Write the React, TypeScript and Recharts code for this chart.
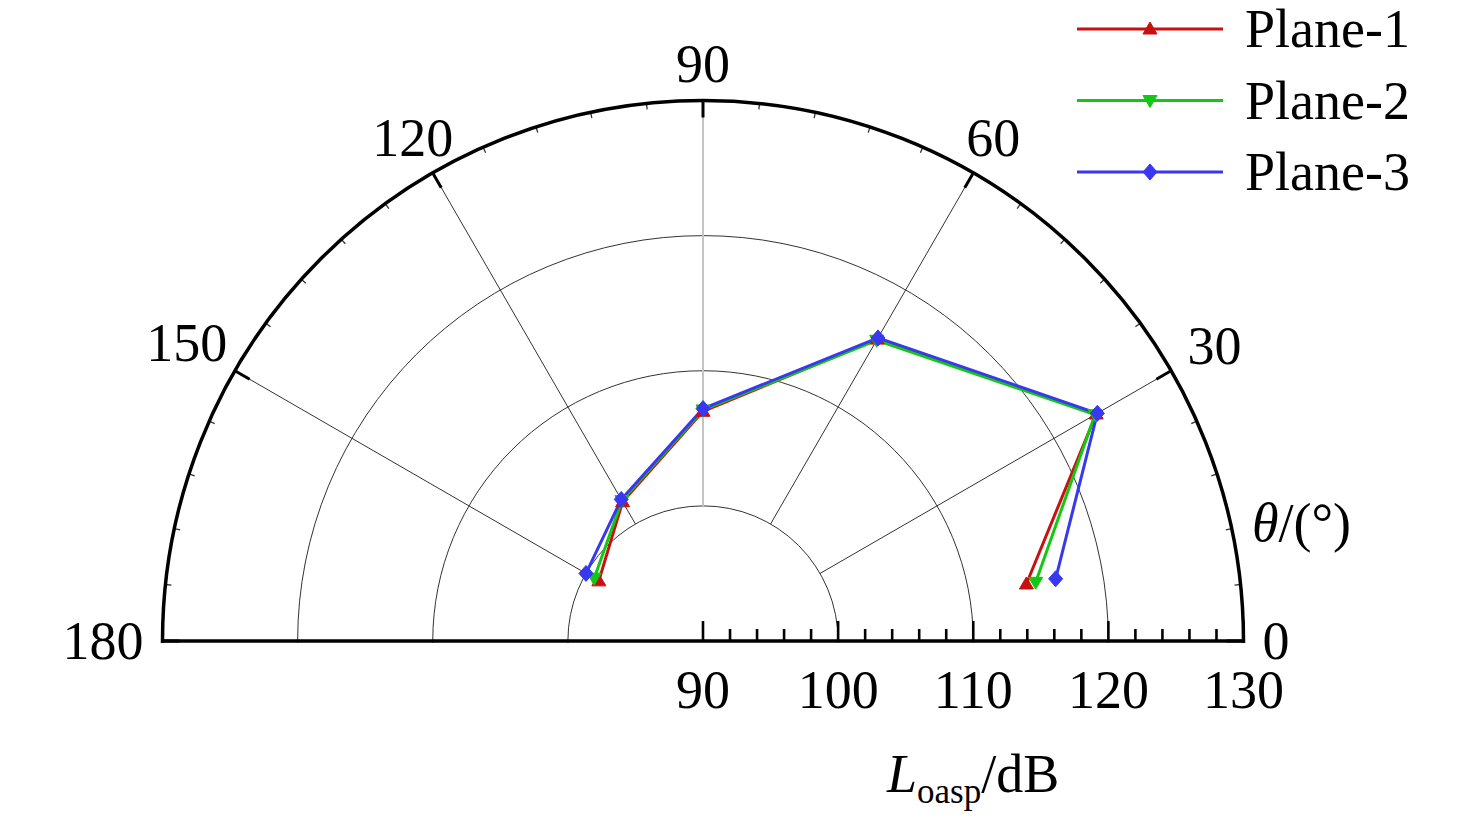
import React from 'react'
import { RadarChart, Radar, PolarGrid, PolarAngleAxis, PolarRadiusAxis, Legend } from 'recharts'

// measurement angles (deg) and overall sound pressure level per plane (dB)
const angles = [10, 30, 60, 90, 120, 150]
const plane1 = [114.3, 123.6, 115.8, 107.0, 101.9, 98.9]
const plane2 = [115.0, 123.5, 115.7, 107.1, 102.0, 99.3]
const plane3 = [116.5, 123.7, 115.9, 107.2, 102.1, 100.0]

const angleLabels = [0, 30, 60, 90, 120, 150, 180]
const spokeAngles = [30, 60, 120, 150]
const centreSpoke = [90]
const minorAngles = [0, 6, 12, 18, 24, 30, 36, 42, 48, 54, 60, 66, 72, 78, 84, 90, 96, 102, 108, 114, 120, 126, 132, 138, 144, 150, 156, 162, 168, 174, 180]
const levelTicks = [90, 92, 94, 96, 98, 100, 102, 104, 106, 108, 110, 112, 114, 116, 118, 120, 122, 124, 126, 128, 130]
const gridLevels = [100, 110, 120, 130]

const W = 1476
const H = 823
const CX = 703
const CY = 641
const OUTER = 540.5
const L_MIN = 90
const L_MAX = 130
const GRID_INNER = (OUTER * (gridLevels[0] - L_MIN)) / (L_MAX - L_MIN)
const FONT = '"Liberation Serif", "Times New Roman", serif'
const FS = 54
const NO_MARGIN = { top: 0, right: 0, bottom: 0, left: 0 }

const series = [
  { key: 'p1', name: 'Plane-1', color: '#c81010', shape: 'up' },
  { key: 'p2', name: 'Plane-2', color: '#12c812', shape: 'down' },
  { key: 'p3', name: 'Plane-3', color: '#3838f0', shape: 'diamond' },
]

const rows = angles.map((a, i) => ({ angle: a, p1: plane1[i], p2: plane2[i], p3: plane3[i] }))

function markerPath(shape: string, x: number, y: number) {
  if (shape === 'up') return `M${x},${y - 7}L${x + 7},${y + 5}L${x - 7},${y + 5}Z`
  if (shape === 'down') return `M${x},${y + 7}L${x + 7},${y - 5}L${x - 7},${y - 5}Z`
  return `M${x},${y - 8}L${x + 7},${y}L${x},${y + 8}L${x - 7},${y}Z`
}

const makeDot = (shape: string, color: string) => (props: any) => {
  const { cx, cy, index } = props
  if (!Number.isFinite(cx) || !Number.isFinite(cy)) return <g key={`m-${index}`} />
  return <path key={`m-${index}`} d={markerPath(shape, cx, cy)} fill={color} stroke={color} strokeWidth={1} />
}

// the curves are open polylines, not closed radar polygons
function OpenLine(props: any) {
  const pts = (props.points ?? []).filter((p: any) => Number.isFinite(p.x) && Number.isFinite(p.y))
  const d = pts.map((p: any, i: number) => `${i === 0 ? 'M' : 'L'}${p.x},${p.y}`).join('')
  return <path d={d} fill="none" stroke={props.stroke} strokeWidth={props.strokeWidth} strokeLinejoin="round" />
}

function LevelTick(props: any) {
  const { x, y, payload } = props
  const major = payload.value % 10 === 0
  return (
    <g>
      <line x1={x} y1={y} x2={x} y2={y - (major ? 20 : 12)} stroke="#000" strokeWidth={2.6} />
      {major && (
        <text x={x} y={y + 67} textAnchor="middle" fontFamily={FONT} fontSize={FS} fill="#000">
          {payload.value}
        </text>
      )}
    </g>
  )
}

// label box pushed outward along the radius until its edge clears the tick point
function AngleTick(props: any) {
  const { x, y, payload } = props
  const a = (payload.coordinate * Math.PI) / 180
  const halfW = String(payload.value).length * FS * 0.25
  const halfH = FS * 0.34
  const c = Math.abs(Math.cos(a))
  const s = Math.abs(Math.sin(a))
  const reach = Math.min(c > 1e-6 ? halfW / c : Infinity, s > 1e-6 ? halfH / s : Infinity)
  const tx = x + reach * Math.cos(a)
  const ty = y - reach * Math.sin(a)
  return (
    <text x={tx} y={ty + halfH} textAnchor="middle" fontFamily={FONT} fontSize={FS} fill="#000">
      {payload.value}
    </text>
  )
}

function renderLegend(props: any) {
  const items = props.payload ?? []
  return (
    <svg width={406} height={215}>
      {items.map((item: any, i: number) => {
        const s = series.find(d => d.name === item.value) ?? series[i]
        const y = 29 + i * 71.5
        return (
          <g key={s.key}>
            <line x1={7} y1={y} x2={153} y2={y} stroke={s.color} strokeWidth={3} />
            <path d={markerPath(s.shape, 80, y)} fill={s.color} stroke={s.color} strokeWidth={1} />
            <text x={175} y={y + 18} fontFamily={FONT} fontSize={FS} fill="#000">
              {s.name}
            </text>
          </g>
        )
      })}
    </svg>
  )
}

const angleAxisBase = {
  type: 'number' as const,
  dataKey: 'angle',
  domain: [0, 180],
  allowDataOverflow: true,
}

export default function App() {
  return (
    <div style={{ position: 'absolute', left: 0, top: 0, width: W, height: H, background: '#fff', overflow: 'hidden' }}>
      {/* grid, outer arc and its ticks: upper half only */}
      <div style={{ position: 'absolute', left: 0, top: 0, width: W, height: CY + 2, overflow: 'hidden' }}>
        <RadarChart
          width={W}
          height={CY + 2}
          data={rows}
          cx={CX}
          cy={CY}
          innerRadius={GRID_INNER}
          outerRadius={OUTER}
          startAngle={0}
          endAngle={180}
          margin={NO_MARGIN}
        >
          <PolarGrid gridType="circle" angleAxisId="spokes" stroke="#333" strokeWidth={1} />
          <PolarGrid gridType="circle" angleAxisId="centre" polarRadius={[]} stroke="#c4c4c4" strokeWidth={2} />
          <PolarRadiusAxis
            type="number"
            domain={[gridLevels[0], L_MAX]}
            allowDataOverflow
            ticks={gridLevels}
            tick={false}
            axisLine={false}
          />
          <PolarAngleAxis {...angleAxisBase} angleAxisId="spokes" ticks={spokeAngles} tick={false} tickLine={false} axisLine={false} />
          <PolarAngleAxis {...angleAxisBase} angleAxisId="centre" ticks={centreSpoke} tick={false} tickLine={false} axisLine={false} />
          <PolarAngleAxis
            {...angleAxisBase}
            angleAxisId="minor"
            ticks={minorAngles}
            orientation="inner"
            tickSize={6}
            tick={false}
            tickLine={{ stroke: '#333', strokeWidth: 1.3 }}
            axisLine={false}
          />
          <PolarAngleAxis
            {...angleAxisBase}
            angleAxisId="major"
            ticks={angleLabels}
            orientation="inner"
            tickSize={17}
            tick={false}
            tickLine={{ stroke: '#000', strokeWidth: 3 }}
            axisLineType="circle"
            axisLine={{ stroke: '#000', strokeWidth: 3.5 }}
          />
        </RadarChart>
      </div>

      {/* baseline, labels, series and legend */}
      <div style={{ position: 'absolute', left: 0, top: 0 }}>
        <RadarChart
          width={W}
          height={H}
          data={rows}
          cx={CX}
          cy={CY}
          innerRadius={0}
          outerRadius={OUTER}
          startAngle={0}
          endAngle={180}
          margin={NO_MARGIN}
        >
          <PolarAngleAxis
            {...angleAxisBase}
            ticks={angleLabels}
            tickSize={19}
            tick={<AngleTick />}
            tickLine={false}
            axisLine={false}
          />
          <PolarRadiusAxis
            angle={180}
            radiusAxisId="left"
            type="number"
            domain={[L_MIN, L_MAX]}
            allowDataOverflow
            tick={false}
            axisLine={{ stroke: '#000', strokeWidth: 3.5 }}
          />
          <PolarRadiusAxis
            angle={0}
            type="number"
            domain={[L_MIN, L_MAX]}
            allowDataOverflow
            ticks={levelTicks}
            tick={<LevelTick />}
            axisLine={{ stroke: '#000', strokeWidth: 3.5 }}
          />
          {series.map(s => (
            <Radar
              key={s.key}
              dataKey={s.key}
              name={s.name}
              stroke={s.color}
              strokeWidth={3}
              fill="none"
              fillOpacity={0}
              shape={OpenLine}
              dot={makeDot(s.shape, s.color)}
              isAnimationActive={false}
            />
          ))}
          <Legend
            layout="vertical"
            align="center"
            verticalAlign="middle"
            content={renderLegend}
            wrapperStyle={{ left: 1070, top: 0, width: 406, height: 215 }}
          />
          <text x={1252} y={541} fontFamily={FONT} fontSize={FS} fill="#000">
            <tspan fontStyle="italic">θ</tspan>/(°)
          </text>
          <text x={887} y={792} fontFamily={FONT} fontSize={FS} fill="#000">
            <tspan fontStyle="italic">L</tspan>
            <tspan fontSize={35} dy={11}>oasp</tspan>
            <tspan dy={-11}>/dB</tspan>
          </text>
        </RadarChart>
      </div>
    </div>
  )
}
